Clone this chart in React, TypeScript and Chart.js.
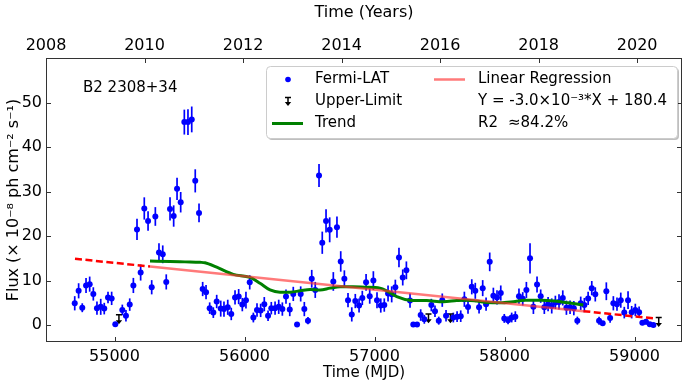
import { useEffect, useRef } from 'react';
import { Chart, registerables } from 'chart.js';
Chart.register(...registerables);

const MJD = [
  54694, 54724, 54752, 54781, 54809, 54837, 54865, 54894, 54921, 54950, 54978, 55006,
  55060, 55088, 55117, 55145, 55173, 55201, 55229, 55258, 55286, 55314, 55342, 55371,
  55398, 55427, 55455, 55481, 55509, 55537, 55565, 55594, 55621, 55650, 55678, 55704,
  55732, 55760, 55786, 55817, 55842, 55871, 55898, 55927, 55955, 55983, 56011, 56040,
  56068, 56096, 56124, 56152, 56181, 56206, 56235, 56263, 56291, 56319, 56348, 56375,
  56404, 56432, 56460, 56488, 56517, 56544, 56573, 56598, 56627, 56655, 56683, 56711,
  56740, 56768, 56796, 56825, 56852, 56881, 56906, 56935, 56963, 56991, 57019, 57048,
  57075, 57104, 57132, 57160, 57188, 57217, 57245, 57273, 57298, 57327, 57355, 57383,
  57437, 57465, 57494, 57521, 57550, 57606, 57635, 57663, 57691, 57719, 57748, 57775,
  57804, 57832, 57858, 57886, 57914, 57942, 57971, 57998, 58027, 58055, 58083, 58111,
  58140, 58168, 58196, 58222, 58250, 58278, 58306, 58335, 58363, 58391, 58419, 58448,
  58476, 58504, 58533, 58560, 58586, 58614, 58643, 58671, 58698, 58727, 58755, 58783,
  58812, 58837, 58865, 58894, 58921, 58950, 58978, 59006, 59035, 59060, 59088, 59117,
  59145,
];
const FLUX = [
  4.9, 7.7, 3.9, 8.9, 9.2, 7.0, 3.8, 4.1, 3.7, 6.2, 6.0, 0.2,
  3.4, 2.1, 4.6, 8.9, 21.5, 11.8, 26.2, 23.4, 8.5, 24.4, 16.3, 15.9,
  9.7, 26.1, 24.5, 30.6, 27.6, 45.6, 45.6, 46.2, 32.4, 25.2, 8.1, 7.4,
  3.8, 2.8, 5.3, 3.7, 3.6, 4.0, 2.5, 6.2, 6.4, 4.6, 5.6, 9.6,
  1.7, 3.4, 3.3, 4.7, 2.1, 3.8, 3.8, 4.1, 3.6, 6.4, 3.5, 7.0,
  0.15, 7.0, 3.6, 1.0, 10.4, 7.9, 33.6, 18.5, 23.4, 21.4, 9.8, 22.0,
  14.3, 10.4, 5.6, 2.4, 5.4, 4.4, 6.1, 9.6, 6.5, 10.0, 5.6, 4.4,
  4.5, 7.1, 6.9, 8.5, 15.2, 10.7, 12.3, 5.5, 0.15, 0.15, 2.25, 1.3,
  4.5, 3.1, 1.0, 5.6, 2.1, 1.7, 1.9, 2.0, 5.8, 4.05, 8.6, 7.7,
  4.0, 8.3, 4.7, 14.2, 6.6, 6.2, 7.2, 1.5, 1.1, 1.7, 1.9, 6.5,
  5.9, 7.9, 15.0, 4.1, 9.1, 6.5, 4.0, 4.7, 4.3, 5.1, 5.2, 6.1,
  3.9, 4.0, 3.8, 1.0, 4.9, 4.5, 6.0, 8.3, 6.9, 1.0, 0.4, 7.6,
  1.6, 4.9, 4.7, 5.6, 2.8, 5.6, 2.9, 3.4, 2.9, 0.5, 0.75, 0.2,
  0.0,
];
const FLUX_ERR = [
  1.6, 1.7, 1.0, 1.7, 1.7, 1.5, 1.5, 1.8, 1.3, 1.3, 1.5, 0.3,
  1.2, 1.3, 1.4, 1.7, 2.4, 1.8, 2.5, 2.2, 1.6, 2.1, 2.1, 2.0,
  1.7, 2.6, 2.4, 2.5, 2.3, 2.8, 2.9, 2.9, 2.6, 2.1, 1.6, 1.6,
  1.3, 1.2, 1.5, 1.8, 1.7, 1.7, 1.4, 1.6, 1.7, 1.5, 1.9, 1.6,
  1.1, 1.5, 1.5, 1.6, 1.2, 1.4, 1.5, 1.6, 1.5, 1.6, 1.5, 1.6,
  0.3, 1.7, 1.6, 0.8, 2.0, 1.8, 2.6, 2.5, 2.6, 2.8, 2.1, 2.4,
  2.3, 1.9, 1.6, 1.6, 1.6, 1.6, 1.6, 1.9, 1.7, 2.1, 1.8, 1.6,
  1.5, 1.8, 1.8, 1.7, 2.2, 1.8, 2.0, 1.6, 0.3, 0.3, 1.3, 1.0,
  1.4, 1.3, 0.9, 1.5, 1.3, 1.1, 1.2, 1.3, 1.7, 1.5, 1.7, 1.8,
  1.4, 1.8, 1.5, 2.1, 1.8, 1.6, 1.7, 1.0, 0.9, 1.1, 1.2, 1.7,
  1.5, 1.8, 3.4, 1.6, 1.8, 1.5, 1.5, 1.6, 1.7, 1.5, 1.7, 1.7,
  1.6, 1.5, 1.6, 0.9, 1.5, 1.6, 1.5, 1.6, 1.6, 0.9, 0.5, 2.0,
  1.1, 1.6, 1.5, 1.7, 1.3, 2.0, 1.4, 1.4, 1.3, 0.5, 0.6, 0.4,
  0.3,
];
const UL_MJD = [55034, 57415, 57584, 59186];
const UL_FLUX = [2.3, 2.5, 2.5, 1.7];
const UL_ARROW = 2.0;

const TREND_MJD = [
  55273, 55427, 55542, 55658, 55696, 55786, 55914, 56042, 56119, 56196, 56273, 56350,
  56427, 56504, 56581, 56658, 56735, 56835, 56927, 57042, 57094, 57171, 57273, 57401,
  57529, 57632, 57709, 57786, 57863, 57965, 58068, 58158, 58286, 58388, 58491, 58606,
];
const TREND_FLUX = [
  14.4, 14.3, 14.2, 14.1, 14.0, 13.0, 11.4, 10.7, 9.4, 7.9, 7.4, 7.4,
  7.7, 8.0, 7.9, 8.3, 8.6, 8.6, 8.5, 8.3, 7.7, 6.4, 5.6, 5.5,
  5.25, 5.5, 5.6, 5.4, 5.1, 5.0, 5.25, 5.6, 5.6, 5.4, 5.0, 4.5,
];
const REG_MJD = [54696, 55273, 58606, 59145];
const REG_FLUX = [14.9, 13.16, 3.13, 1.51];

const MJD_TICKS = [55000, 56000, 57000, 58000, 59000];
const YEAR_TICKS = [2008, 2010, 2012, 2014, 2016, 2018, 2020];
const FLUX_TICKS = [0, 10, 20, 30, 40, 50];

const SOURCE_NAME = 'B2 2308+34';
const LEGEND_LEFT = ['Fermi-LAT', 'Upper-Limit', 'Trend'];
const LEGEND_RIGHT = ['Linear Regression', 'Y = -3.0×10⁻³*X + 180.4', 'R2', '≈84.2%'];

const FONT = 'DejaVu Sans';
const BLUE = '#0000ff';
const GREEN = '#008000';
const RED_SOLID = 'rgba(255,50,50,0.65)';
const RED_DASH = '#ff0000';

function drawUL(ctx: CanvasRenderingContext2D, px: number, top: number, bottom: number) {
  ctx.strokeStyle = '#000';
  ctx.fillStyle = '#000';
  ctx.lineWidth = 1.5;
  ctx.beginPath();
  ctx.moveTo(px - 3, top);
  ctx.lineTo(px + 3, top);
  ctx.moveTo(px, top);
  ctx.lineTo(px, bottom - 2);
  ctx.stroke();
  ctx.beginPath();
  ctx.moveTo(px - 3.2, bottom - 3.5);
  ctx.lineTo(px + 3.2, bottom - 3.5);
  ctx.lineTo(px, bottom + 0.5);
  ctx.closePath();
  ctx.fill();
}

const overlay = {
  id: 'overlay',
  beforeDatasetsDraw(chart: any) {
    const { ctx, scales } = chart;
    const x = scales.x;
    const y = scales.y;
    ctx.save();
    ctx.strokeStyle = BLUE;
    ctx.lineWidth = 1.7;
    MJD.forEach((m, i) => {
      const px = x.getPixelForValue(m);
      ctx.beginPath();
      ctx.moveTo(px, y.getPixelForValue(FLUX[i] - FLUX_ERR[i]));
      ctx.lineTo(px, y.getPixelForValue(FLUX[i] + FLUX_ERR[i]));
      ctx.stroke();
    });
    UL_MJD.forEach((m, i) => {
      const px = x.getPixelForValue(m);
      drawUL(ctx, px, y.getPixelForValue(UL_FLUX[i]), y.getPixelForValue(UL_FLUX[i] - UL_ARROW));
    });
    ctx.restore();
  },
  afterDraw(chart: any) {
    const { ctx, chartArea: a, scales } = chart;
    ctx.save();
    // frame
    ctx.strokeStyle = '#333';
    ctx.lineWidth = 1;
    ctx.strokeRect(Math.round(a.left) + 0.5, Math.round(a.top) + 0.5, Math.round(a.right - a.left) - 1, Math.round(a.bottom - a.top) - 1);
    // inward ticks
    const TL = 5;
    ctx.beginPath();
    MJD_TICKS.forEach((v) => {
      const px = Math.round(scales.x.getPixelForValue(v)) + 0.5;
      ctx.moveTo(px, a.bottom);
      ctx.lineTo(px, a.bottom - TL);
    });
    YEAR_TICKS.forEach((v) => {
      const px = Math.round(scales.x2.getPixelForValue(v)) + 0.5;
      ctx.moveTo(px, a.top);
      ctx.lineTo(px, a.top + TL);
    });
    FLUX_TICKS.forEach((v) => {
      const py = Math.round(scales.y.getPixelForValue(v)) + 0.5;
      ctx.moveTo(a.left, py);
      ctx.lineTo(a.left + TL, py);
      ctx.moveTo(a.right, py);
      ctx.lineTo(a.right - TL, py);
    });
    ctx.stroke();

    // source label
    ctx.fillStyle = '#000';
    ctx.font = `15px "${FONT}"`;
    ctx.textBaseline = 'middle';
    ctx.textAlign = 'left';
    ctx.fillText(SOURCE_NAME, 83, 88);

    // legend box
    const bx = 266.5, by = 66.5, bw = 411, bh = 72, r = 4;
    const rr = (ox: number, oy: number) => {
      ctx.beginPath();
      ctx.moveTo(ox + r, oy);
      ctx.lineTo(ox + bw - r, oy);
      ctx.arcTo(ox + bw, oy, ox + bw, oy + r, r);
      ctx.lineTo(ox + bw, oy + bh - r);
      ctx.arcTo(ox + bw, oy + bh, ox + bw - r, oy + bh, r);
      ctx.lineTo(ox + r, oy + bh);
      ctx.arcTo(ox, oy + bh, ox, oy + bh - r, r);
      ctx.lineTo(ox, oy + r);
      ctx.arcTo(ox, oy, ox + r, oy, r);
      ctx.closePath();
    };
    rr(bx + 1.5, by + 1.5);
    ctx.fillStyle = 'rgba(0,0,0,0.25)';
    ctx.fill();
    rr(bx, by);
    ctx.fillStyle = '#ffffff';
    ctx.fill();
    ctx.strokeStyle = '#cccccc';
    ctx.lineWidth = 1;
    ctx.stroke();

    const r1 = 79.5, r2 = 101.5, r3 = 123.5;
    ctx.fillStyle = BLUE;
    ctx.beginPath();
    ctx.arc(288, r1, 2.8, 0, Math.PI * 2);
    ctx.fill();
    drawUL(ctx, 288, r2 - 4, r2 + 4);
    ctx.strokeStyle = GREEN;
    ctx.lineWidth = 3;
    ctx.beginPath();
    ctx.moveTo(272, r3);
    ctx.lineTo(303, r3);
    ctx.stroke();
    ctx.strokeStyle = RED_SOLID;
    ctx.lineWidth = 2.5;
    ctx.beginPath();
    ctx.moveTo(434, r1);
    ctx.lineTo(465, r1);
    ctx.stroke();

    ctx.fillStyle = '#000';
    ctx.font = `15px "${FONT}"`;
    ctx.fillText(LEGEND_LEFT[0], 315, r1);
    ctx.fillText(LEGEND_LEFT[1], 315, r2);
    ctx.fillText(LEGEND_LEFT[2], 315, r3);
    ctx.fillText(LEGEND_RIGHT[0], 478, r1);
    ctx.fillText(LEGEND_RIGHT[1], 478, r2);
    ctx.fillText(LEGEND_RIGHT[2], 478, r3);
    ctx.fillText(LEGEND_RIGHT[3], 508, r3);
    ctx.restore();
  },
};

export default function App() {
  const ref = useRef<HTMLCanvasElement | null>(null);
  useEffect(() => {
    if (!ref.current) return;
    Chart.defaults.font.family = FONT;
    Chart.defaults.color = '#000';
    const tickFont = { family: FONT, size: 16 };
    const titleFont = { family: FONT, size: 15 };
    const noGrid = { display: false, drawTicks: false };
    const chart = new Chart(ref.current, {
      type: 'scatter',
      data: {
        datasets: [
          {
            type: 'line',
            label: 'Linear Regression',
            data: REG_MJD.slice(1, 3).map((m, i) => ({ x: m, y: REG_FLUX[i + 1] })),
            borderColor: RED_SOLID,
            borderWidth: 2.5,
            pointRadius: 0,
            order: 1,
          },
          {
            type: 'line',
            label: 'Regression extrapolation (early)',
            data: REG_MJD.slice(0, 2).map((m, i) => ({ x: m, y: REG_FLUX[i] })),
            borderColor: RED_DASH,
            borderWidth: 2.5,
            borderDash: [7, 3.5],
            pointRadius: 0,
            order: 2,
          },
          {
            type: 'line',
            label: 'Regression extrapolation (late)',
            data: REG_MJD.slice(2, 4).map((m, i) => ({ x: m, y: REG_FLUX[i + 2] })),
            borderColor: RED_DASH,
            borderWidth: 2.5,
            borderDash: [7, 3.5],
            pointRadius: 0,
            order: 2,
          },
          {
            type: 'line',
            label: 'Trend',
            data: TREND_MJD.map((m, i) => ({ x: m, y: TREND_FLUX[i] })),
            borderColor: GREEN,
            borderWidth: 3,
            pointRadius: 0,
            cubicInterpolationMode: 'monotone',
            order: 3,
          },
          {
            label: 'Fermi-LAT',
            data: MJD.map((m, i) => ({ x: m, y: FLUX[i] })),
            backgroundColor: BLUE,
            borderWidth: 0,
            pointRadius: 3,
            order: 5,
          },
        ] as any,
      },
      options: {
        animation: false,
        responsive: false,
        events: [],
        layout: { padding: { left: 0, right: 9, top: 0, bottom: 0 } },
        plugins: { legend: { display: false }, tooltip: { enabled: false } },
        scales: {
          x: {
            type: 'linear',
            position: 'bottom',
            min: 54473,
            max: 59365,
            grid: noGrid,
            border: { display: false },
            afterBuildTicks: (s: any) => { s.ticks = MJD_TICKS.map((v) => ({ value: v })); },
            afterFit: (s: any) => { s.height = 41; },
            ticks: { font: tickFont, padding: 5, maxRotation: 0, autoSkip: false, callback: (v: any) => String(v) },
            title: { display: true, text: 'Time (MJD)', font: titleFont, padding: { top: 0, bottom: 1 } },
          },
          x2: {
            type: 'linear',
            axis: 'x',
            position: 'top',
            min: 2008,
            max: 2020.91,
            grid: noGrid,
            border: { display: false },
            afterBuildTicks: (s: any) => { s.ticks = YEAR_TICKS.map((v) => ({ value: v })); },
            afterFit: (s: any) => { s.height = 58; },
            ticks: { font: tickFont, padding: 3, maxRotation: 0, autoSkip: false, callback: (v: any) => String(v) },
            title: { display: true, text: 'Time (Years)', font: { family: FONT, size: 16 }, padding: { top: 3, bottom: 0 } },
          },
          y: {
            type: 'linear',
            position: 'left',
            min: -3.8,
            max: 60,
            grid: noGrid,
            border: { display: false },
            afterBuildTicks: (s: any) => { s.ticks = FLUX_TICKS.map((v) => ({ value: v })); },
            afterFit: (s: any) => { s.width = 46; },
            ticks: { font: tickFont, padding: 4, autoSkip: false, callback: (v: any) => String(v) },
            title: { display: true, text: 'Flux (× 10⁻⁸ ph cm⁻² s⁻¹)', font: { family: FONT, size: 16 }, padding: { top: 4, bottom: 0 } },
          },
        },
      } as any,
      plugins: [overlay],
    });
    return () => chart.destroy();
  }, []);
  return (
    <div style={{ position: 'fixed', left: 0, top: 0, width: 691, height: 383, background: '#fff' }}>
      <canvas ref={ref} width={691} height={383} style={{ display: 'block' }} />
    </div>
  );
}
